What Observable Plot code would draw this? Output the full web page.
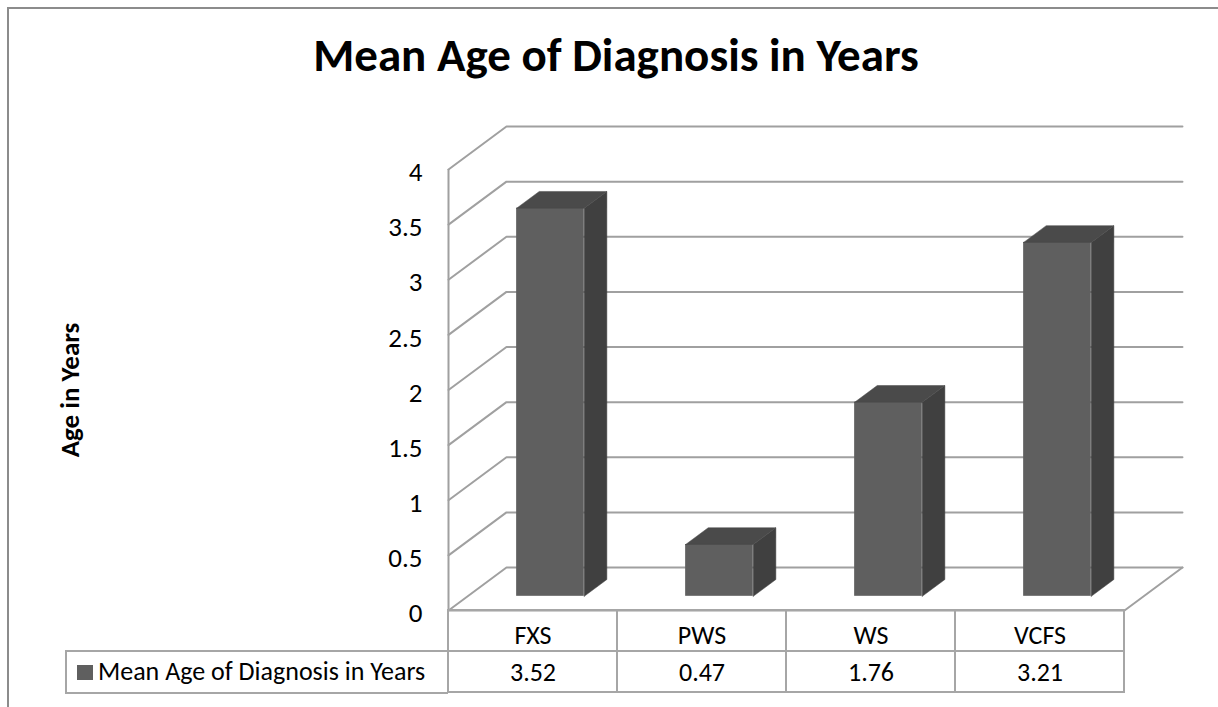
<!DOCTYPE html>
<html>
<head>
<meta charset="utf-8">
<script src="https://cdn.jsdelivr.net/npm/d3@7"></script>
<script src="https://cdn.jsdelivr.net/npm/@observablehq/plot@0.6"></script>
<style>
  html, body { margin: 0; padding: 0; background: #fff; }
  #wrap { position: relative; width: 1218px; height: 707px; overflow: hidden; font-family: Carlito, Calibri, Lato, sans-serif; }
  #frame { position: absolute; left: 7px; top: 7px; width: 1300px; height: 800px; border-left: 2px solid #8c8c8c; border-top: 2px solid #8c8c8c; }
  #title { position: absolute; left: 0; top: 27px; width: 1232px; text-align: center; font-size: 47px; font-weight: bold; color: #000; line-height: 1.2; }
  #chart { position: absolute; left: 0; top: 0; }
  #legendCell { position: absolute; left: 65px; top: 650px; width: 381px; height: 40px; border: 2px solid #a6a6a6; border-right: none; box-sizing: content-box; }
  #legendCell .sw { position: absolute; left: 10px; top: 13px; width: 16px; height: 15px; background: #5f5f5f; }
  #legendCell .lb { position: absolute; left: 31px; top: 4px; font-size: 26px; line-height: 1.2; color: #000; white-space: nowrap; }
</style>
</head>
<body>
<div id="wrap">
  <div id="frame"></div>
  <div id="chart"></div>
  <div id="title"></div>
  <div id="legendCell"><div class="sw"></div><div class="lb"></div></div>
</div>
<script>
// ---- data ----
const chartTitle = "Mean Age of Diagnosis in Years";
const yAxisTitle = "Age in Years";
const seriesName = "Mean Age of Diagnosis in Years";
const categories = ["FXS", "PWS", "WS", "VCFS"];
const values = [3.52, 0.47, 1.76, 3.21];
const valueLabels = ["3.52", "0.47", "1.76", "3.21"];
const yTicks = [0, 0.5, 1, 1.5, 2, 2.5, 3, 3.5, 4];

// ---- 3D geometry (in data units) ----
const DX = 0.343;  // floor depth along x (category units)
const DY = 0.39;   // floor depth along y (value units)
const F0 = 0.33, F1 = 0.72;    // bar front / back depth fractions
const BAR_OFF = 0.29, BAR_W = 0.40;
const N = categories.length;
const yMax = yTicks[yTicks.length - 1];

document.getElementById("title").textContent = chartTitle;
document.querySelector("#legendCell .lb").textContent = seriesName;

const rows = categories.map((c, i) => ({ i, cat: c, v: values[i], label: valueLabels[i] }));

// gridlines: left wall diagonal + back wall horizontal
const grid = [];
yTicks.forEach(t => {
  grid.push({ x: 0, y: t, z: t });
  grid.push({ x: DX, y: t + DY, z: t });
  grid.push({ x: N + DX, y: t + DY, z: t });
});
// floor front and right edges
const floor = [{ x: 0, y: 0 }, { x: N, y: 0 }, { x: N + DX, y: DY }];

// bar faces
const sides = [], tops = [];
rows.forEach(r => {
  const x0 = r.i + BAR_OFF + F0 * DX, x1 = x0 + BAR_W;
  const y0 = F0 * DY, y1 = r.v + F0 * DY;
  const ddx = (F1 - F0) * DX, ddy = (F1 - F0) * DY;
  [[x1, y0], [x1 + ddx, y0 + ddy], [x1 + ddx, y1 + ddy], [x1, y1], [x1, y0]]
    .forEach(([x, y]) => sides.push({ x, y, z: r.i }));
  [[x0, y1], [x1, y1], [x1 + ddx, y1 + ddy], [x0 + ddx, y1 + ddy], [x0, y1]]
    .forEach(([x, y]) => tops.push({ x, y, z: r.i }));
});

const gridColor = "#a0a0a0";
const plot = Plot.plot({
  width: 1218,
  height: 707,
  marginLeft: 448,
  marginRight: 94,
  marginTop: 169,
  marginBottom: 97,
  x: { type: "linear", domain: [0, N], axis: null },
  y: { type: "linear", domain: [0, yMax], axis: null },
  style: { fontFamily: "Carlito, Calibri, Lato, sans-serif", fontSize: "26px", background: "transparent", overflow: "visible" },
  marks: [
    Plot.line(grid, { x: "x", y: "y", z: "z", stroke: gridColor, strokeWidth: 2 }),
    Plot.line(floor, { x: "x", y: "y", stroke: gridColor, strokeWidth: 2 }),
    Plot.ruleX([0], { y1: 0, y2: yMax, stroke: gridColor, strokeWidth: 2 }),
    Plot.text(yTicks, { x: 0, y: d => d, text: d => String(d), textAnchor: "end", dx: -26, dy: 3, fill: "#000", fontSize: 27 }),
    Plot.text([yAxisTitle], { frameAnchor: "left", textAnchor: "middle", dx: -378, rotate: -90, fontWeight: "bold", fontSize: 27, fill: "#000" }),
    // bars
    Plot.rect(rows, {
      x1: r => r.i + BAR_OFF + F0 * DX,
      x2: r => r.i + BAR_OFF + F0 * DX + BAR_W,
      y1: () => F0 * DY,
      y2: r => r.v + F0 * DY,
      fill: "#5f5f5f"
    }),
    Plot.line(sides, { x: "x", y: "y", z: "z", fill: "#404040", stroke: "#404040", strokeWidth: 0.5 }),
    Plot.line(tops, { x: "x", y: "y", z: "z", fill: "#4a4a4a", stroke: "#4a4a4a", strokeWidth: 0.5 }),
    // data table
    Plot.rect(rows, { x1: r => r.i, x2: r => r.i + 1, y1: 0, y2: 0, insetBottom: -41, fill: "none", stroke: "#a6a6a6", strokeWidth: 2 }),
    Plot.rect(rows, { x1: r => r.i, x2: r => r.i + 1, y1: 0, y2: 0, insetTop: 41, insetBottom: -82, fill: "none", stroke: "#a6a6a6", strokeWidth: 2 }),
    Plot.text(rows, { x: r => r.i + 0.5, y: 0, text: "cat", dy: 25, fill: "#000", fontSize: 26 }),
    Plot.text(rows, { x: r => r.i + 0.5, y: 0, text: "label", dy: 62, fill: "#000", fontSize: 26 })
  ]
});
document.getElementById("chart").appendChild(plot);
</script>
</body>
</html>
